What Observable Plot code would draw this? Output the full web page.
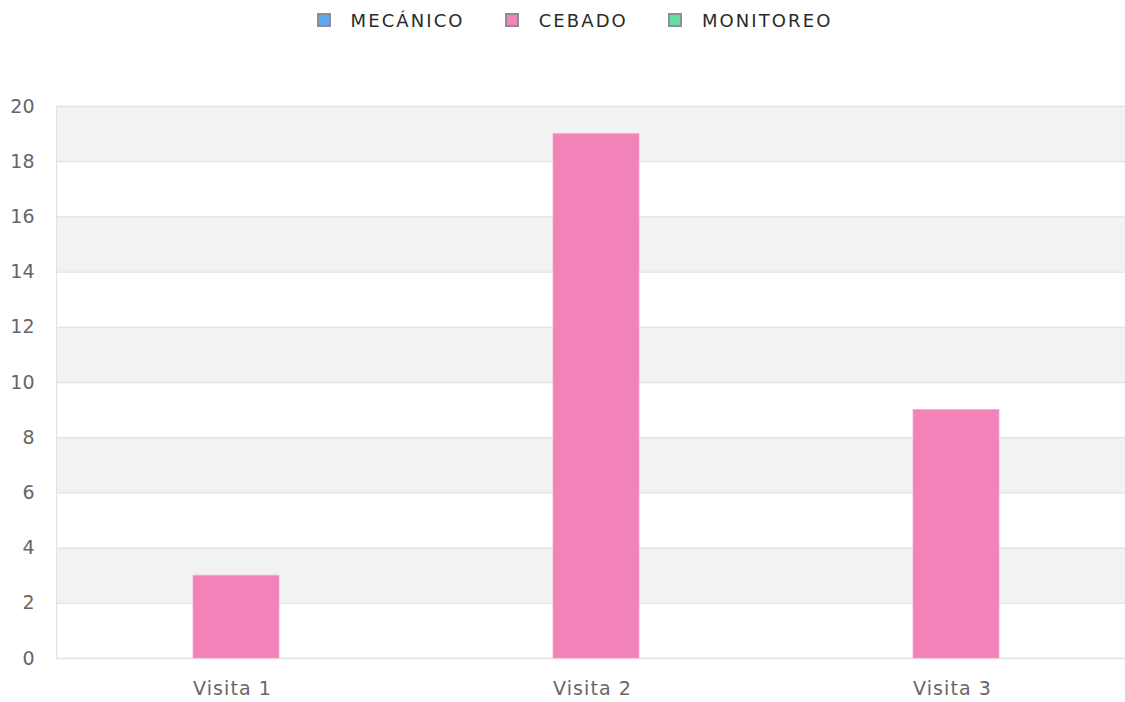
<!DOCTYPE html>
<html>
<head>
<meta charset="utf-8">
<script src="https://cdn.jsdelivr.net/npm/d3@7"></script>
<script src="https://cdn.jsdelivr.net/npm/@observablehq/plot@0.6"></script>
<style>
  html, body { margin: 0; padding: 0; background: #fff; overflow: hidden; }
  body { width: 1125px; height: 702px; font-family: "DejaVu Sans", sans-serif; }
  #legend { height: 40px; display: flex; justify-content: center; align-items: center; padding-left: 24px; box-sizing: border-box; }
  .item { display: flex; align-items: center; margin: 0 20px; font-size: 18px; letter-spacing: 2.1px; color: #2a2a2a; }
  .sw { display: inline-block; flex-shrink: 0; box-sizing: border-box; width: 14px; height: 14px; border: 2px solid #8f8f8f; margin-right: 20px; }
  #chart svg { display: block; overflow: hidden; }
</style>
</head>
<body>
<div id="legend"></div>
<div id="chart"></div>
<script>
const visitas = ["Visita 1", "Visita 2", "Visita 3"];
const series = ["MECÁNICO", "CEBADO", "MONITOREO"];
const mecanico = [0, 0, 0];
const cebado = [3, 19, 9];
const monitoreo = [0, 0, 0];
const colors = ["#5ea8f2", "#f283b9", "#5fdfa2"];
const yTicks = [0, 2, 4, 6, 8, 10, 12, 14, 16, 18, 20];
const bandLows = [2, 6, 10, 14, 18];

const values = [mecanico, cebado, monitoreo];
const data = [];
visitas.forEach((v, i) => series.forEach((s, j) => data.push({visita: v, serie: s, valor: values[j][i]})));
const bands = bandLows.map(b => ({y1: b, y2: b + 2}));

// legend
const legend = document.getElementById("legend");
series.forEach((s, j) => {
  const it = document.createElement("div");
  it.className = "item";
  const sw = document.createElement("span");
  sw.className = "sw";
  sw.style.background = colors[j];
  const tx = document.createElement("span");
  tx.textContent = s;
  it.appendChild(sw); it.appendChild(tx);
  legend.appendChild(it);
});

const chart = Plot.plot({
  width: 1125,
  height: 662,
  marginTop: 66,
  marginBottom: 44,
  marginLeft: 55,
  marginRight: -12,
  style: {fontFamily: "DejaVu Sans, sans-serif", fontSize: "19px", color: "#666", background: "#fff"},
  fx: {domain: visitas, paddingInner: 0, paddingOuter: 0, axis: "bottom", tickSize: 0, tickPadding: 23, label: null},
  x: {domain: series, paddingInner: 0.1, paddingOuter: 0.425, axis: null},
  y: {domain: [0, 20], ticks: yTicks, tickSize: 0, tickPadding: 22, label: null},
  color: {domain: series, range: colors},
  marks: [
    Plot.rectY(bands, {y1: "y1", y2: "y2", fill: "#f2f2f2"}),
    Plot.ruleY(yTicks, {stroke: "#e2e2e2", strokeWidth: 1.3}),
    Plot.frame({anchor: "left", facetAnchor: "left", stroke: "#e2e2e2", strokeWidth: 1.3}),
    Plot.barY(data, {fx: "visita", x: "serie", y: "valor", fill: "serie", stroke: "#f7a8cc", strokeWidth: 0.8})
  ]
});
chart.querySelectorAll("g[aria-label='fx-axis tick label'] text, g[aria-label='fx-axis'] text").forEach(t => {
  t.setAttribute("letter-spacing", "1.1");
  t.setAttribute("dx", "-4");
});
document.getElementById("chart").appendChild(chart);
</script>
</body>
</html>
